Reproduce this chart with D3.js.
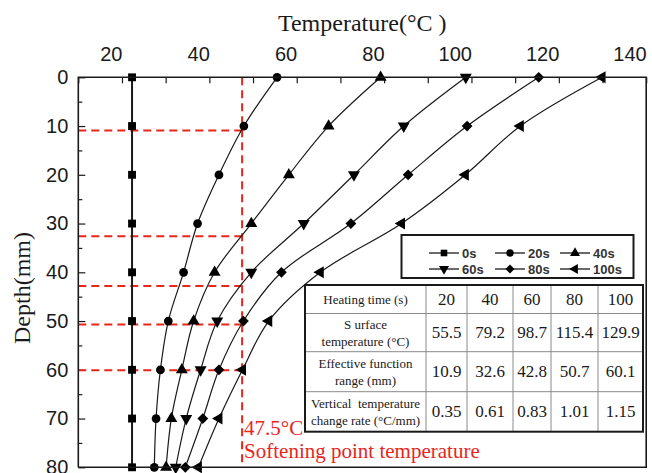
<!DOCTYPE html>
<html>
<head>
<meta charset="utf-8">
<script src="https://cdn.jsdelivr.net/npm/d3@7"></script>
<style>
  html, body { margin: 0; padding: 0; background: #fff; }
  svg { display: block; }
</style>
</head>
<body>
<svg id="chart" width="652" height="473"></svg>
<script>
// Depth below the surface (mm) at which temperatures were sampled
const depths = [0, 10, 20, 30, 40, 50, 60, 70, 80];
const seriesLabels = ["0s", "20s", "40s", "60s", "80s", "100s"];
// Temperature (°C) at each depth, one array per heating time
const temp0s   = [22.3, 22.3, 22.3, 22.3, 22.3, 22.3, 22.3, 22.3, 22.3];
const temp20s  = [55.5, 47.9, 42.2, 37.3, 34.1, 30.6, 28.8, 27.8, 27.4];
const temp40s  = [79.2, 67.3, 58.2, 49.6, 41.2, 36.4, 33.7, 31.3, 30.1];
const temp60s  = [98.7, 84.5, 73.1, 61.6, 49.6, 41.8, 38.0, 34.7, 32.3];
const temp80s  = [115.4, 99.0, 85.5, 72.4, 56.5, 47.8, 42.2, 38.5, 34.5];
const temp100s = [129.9, 111.2, 98.6, 84.0, 65.4, 53.6, 47.6, 42.2, 37.5];
const seriesValues = [temp0s, temp20s, temp40s, temp60s, temp80s, temp100s];

// Softening point and the depth where each curve crosses it
const softeningTemp = 47.5;
const effectiveDepths = [10.9, 32.6, 42.8, 50.7, 60.1];

// Axis ticks
const xTicks = [10, 20, 30, 40, 50, 60, 70, 80, 90, 100, 110, 120, 130, 140];
const xTickLabels = [20, 40, 60, 80, 100, 120, 140];
const yTicks = [0, 10, 20, 30, 40, 50, 60, 70, 80];
const yMinorTicks = [5, 15, 25, 35, 45, 55, 65, 75];

// Summary table
const tableHeaderLabel = "Heating time (s)";
const tableHeadings = ["20", "40", "60", "80", "100"];
const tableRowLabels = [
  ["S urface", "temperature (°C)"],
  ["Effective function", "range (mm)"],
  ["Vertical  temperature", "change rate (°C/mm)"]
];
const surfaceTemps = ["55.5", "79.2", "98.7", "115.4", "129.9"];
const effectiveRanges = ["10.9", "32.6", "42.8", "50.7", "60.1"];
const changeRates = ["0.35", "0.61", "0.83", "1.01", "1.15"];

const RED = "#e8261c";
const INK = "#1a1a1a";
const SANS = "'Liberation Sans', Arial, sans-serif";
const SERIF = "'Liberation Serif', 'Times New Roman', serif";

const svg = d3.select("#chart");
const plotLeft = 78.3, plotRight = 646.2, plotTop = 77.3, plotBottom = 467.3;

const x = d3.scaleLinear().domain([10, 140]).range([plotLeft, plotRight]);
const y = d3.scaleLinear().domain([0, 80]).range([plotTop, plotBottom]);

// Marker shapes per series
const symbolDefs = [
  { type: d3.symbolSquare, size: 62, rotate: 0 },
  { type: d3.symbolCircle, size: 60, rotate: 0 },
  { type: d3.symbolTriangle, size: 62, rotate: 0 },
  { type: d3.symbolTriangle, size: 62, rotate: 180 },
  { type: d3.symbolSquare, size: 58, rotate: 45 },
  { type: d3.symbolTriangle, size: 62, rotate: -90 }
];

// Top axis
const xAxis = d3.axisTop(x)
  .tickValues(xTicks)
  .tickSize(-6)
  .tickPadding(0)
  .tickFormat(d => xTickLabels.includes(d) ? d : "");
const gx = svg.append("g").attr("transform", `translate(0,${plotTop})`).call(xAxis);
gx.select(".domain").remove();
gx.selectAll(".tick line").attr("stroke", INK).attr("stroke-width", 1.2);
gx.selectAll(".tick text")
  .attr("font-family", SANS).attr("font-size", 20).attr("fill", INK)
  .attr("text-anchor", "end").attr("y", -16).attr("dy", 0);

// Left axis
const yAxis = d3.axisLeft(y).tickValues(yTicks).tickSize(-7).tickPadding(10);
const gy = svg.append("g").attr("transform", `translate(${plotLeft},0)`).call(yAxis);
gy.select(".domain").remove();
gy.selectAll(".tick line").attr("stroke", INK).attr("stroke-width", 1.2);
gy.selectAll(".tick text")
  .attr("font-family", SANS).attr("font-size", 20).attr("fill", INK);

const yMinor = d3.axisLeft(y).tickValues(yMinorTicks).tickSize(-4).tickFormat("");
const gym = svg.append("g").attr("transform", `translate(${plotLeft},0)`).call(yMinor);
gym.select(".domain").remove();
gym.selectAll(".tick line").attr("stroke", INK).attr("stroke-width", 1.2);

// Axis titles
svg.append("text")
  .attr("x", (plotLeft + plotRight) / 2).attr("y", 31)
  .attr("text-anchor", "middle")
  .attr("font-family", SERIF).attr("font-size", 24).attr("fill", INK)
  .text("Temperature(°C )");
svg.append("text")
  .attr("transform", `translate(30,288) rotate(-90)`)
  .attr("text-anchor", "middle")
  .attr("font-family", SERIF).attr("font-size", 24).attr("fill", INK)
  .text("Depth(mm)");

// Softening-point guide lines
const guides = svg.append("g")
  .attr("stroke", RED).attr("stroke-width", 2).attr("stroke-dasharray", "8,5");
guides.append("line")
  .attr("x1", x(softeningTemp)).attr("x2", x(softeningTemp))
  .attr("y1", plotTop).attr("y2", plotBottom);
guides.selectAll("line.h").data(effectiveDepths).join("line")
  .attr("class", "h")
  .attr("x1", plotLeft).attr("x2", x(softeningTemp))
  .attr("y1", d => y(d)).attr("y2", d => y(d));

// Curves and markers
const line = d3.line()
  .x(d => x(d.t)).y(d => y(d.d))
  .curve(d3.curveCatmullRom.alpha(0.5));

seriesValues.forEach((vals, i) => {
  const pts = vals.map((t, k) => ({ t, d: depths[k] }));
  svg.append("path")
    .datum(pts)
    .attr("d", line)
    .attr("fill", "none")
    .attr("stroke", INK)
    .attr("stroke-width", i === 0 ? 2 : 1.2);
  const s = symbolDefs[i];
  svg.append("g").selectAll("path").data(pts).join("path")
    .attr("d", d3.symbol().type(s.type).size(s.size))
    .attr("transform", d => `translate(${x(d.t)},${y(d.d)}) rotate(${s.rotate})`)
    .attr("fill", "#000");
});

// Softening point annotation
svg.append("text")
  .attr("x", x(softeningTemp) + 2).attr("y", 435)
  .attr("font-family", SERIF).attr("font-size", 21).attr("fill", RED)
  .text(softeningTemp + "°C");
svg.append("text")
  .attr("x", x(softeningTemp) + 2).attr("y", 458)
  .attr("font-family", SERIF).attr("font-size", 21).attr("fill", RED)
  .text("Softening point temperature");

// Legend
const lg = svg.append("g");
lg.append("rect")
  .attr("x", 401.5).attr("y", 235).attr("width", 232).attr("height", 43)
  .attr("fill", "#fff").attr("stroke", INK).attr("stroke-width", 2);
const legendCols = [429, 495, 560];
const legendRows = [253, 269];
seriesLabels.forEach((lab, i) => {
  const cx = legendCols[i % 3], cy = legendRows[Math.floor(i / 3)];
  const s = symbolDefs[i];
  lg.append("line").attr("x1", cx).attr("x2", cx + 30).attr("y1", cy).attr("y2", cy)
    .attr("stroke", INK).attr("stroke-width", 1.3);
  lg.append("path")
    .attr("d", d3.symbol().type(s.type).size(s.size * 0.7))
    .attr("transform", `translate(${cx + 15},${cy}) rotate(${s.rotate})`)
    .attr("fill", "#000");
  lg.append("text").attr("x", cx + 33).attr("y", cy)
    .attr("dominant-baseline", "central")
    .attr("font-family", SANS).attr("font-size", 13).attr("font-weight", "bold")
    .attr("fill", "#333")
    .text(lab);
});

// Summary table
const tb = svg.append("g");
const colX = [305, 426, 467, 513, 551, 598, 643];
const rowY = [285, 313.5, 351.7, 391.7, 431.7];
tb.append("rect")
  .attr("x", colX[0]).attr("y", rowY[0])
  .attr("width", colX[6] - colX[0]).attr("height", rowY[4] - rowY[0])
  .attr("fill", "#fff");
colX.slice(1, 6).forEach(cx => tb.append("line")
  .attr("x1", cx).attr("x2", cx).attr("y1", rowY[0]).attr("y2", rowY[4])
  .attr("stroke", "#8a8a8a").attr("stroke-width", 1));
rowY.slice(1, 4).forEach(ry => tb.append("line")
  .attr("x1", colX[0]).attr("x2", colX[6]).attr("y1", ry).attr("y2", ry)
  .attr("stroke", "#8a8a8a").attr("stroke-width", 1));
tb.append("rect")
  .attr("x", colX[0]).attr("y", rowY[0])
  .attr("width", colX[6] - colX[0]).attr("height", rowY[4] - rowY[0])
  .attr("fill", "none").attr("stroke", INK).attr("stroke-width", 2);

const labelCx = (colX[0] + colX[1]) / 2;
const rowMid = r => (rowY[r] + rowY[r + 1]) / 2;
tb.append("text").attr("x", labelCx).attr("y", rowMid(0))
  .attr("text-anchor", "middle").attr("dominant-baseline", "central")
  .attr("font-family", SERIF).attr("font-size", 13).attr("fill", INK)
  .text(tableHeaderLabel);
tableRowLabels.forEach((lines, r) => {
  lines.forEach((ln, k) => tb.append("text")
    .attr("x", labelCx).attr("y", rowMid(r + 1) + (k === 0 ? -8.5 : 8.5))
    .attr("text-anchor", "middle").attr("dominant-baseline", "central")
    .attr("font-family", SERIF).attr("font-size", 13).attr("fill", INK)
    .attr("xml:space", "preserve")
    .text(ln));
});
[tableHeadings, surfaceTemps, effectiveRanges, changeRates].forEach((row, r) => {
  row.forEach((v, c) => tb.append("text")
    .attr("x", (colX[c + 1] + colX[c + 2]) / 2).attr("y", rowMid(r))
    .attr("text-anchor", "middle").attr("dominant-baseline", "central")
    .attr("font-family", SERIF).attr("font-size", 17).attr("fill", INK)
    .text(v));
});

// Plot frame
svg.append("path")
  .attr("d", `M${plotLeft},${plotBottom}V${plotTop}H${plotRight}V${plotBottom}H${plotLeft}`)
  .attr("fill", "none").attr("stroke", INK).attr("stroke-width", 1.6);
</script>
</body>
</html>
